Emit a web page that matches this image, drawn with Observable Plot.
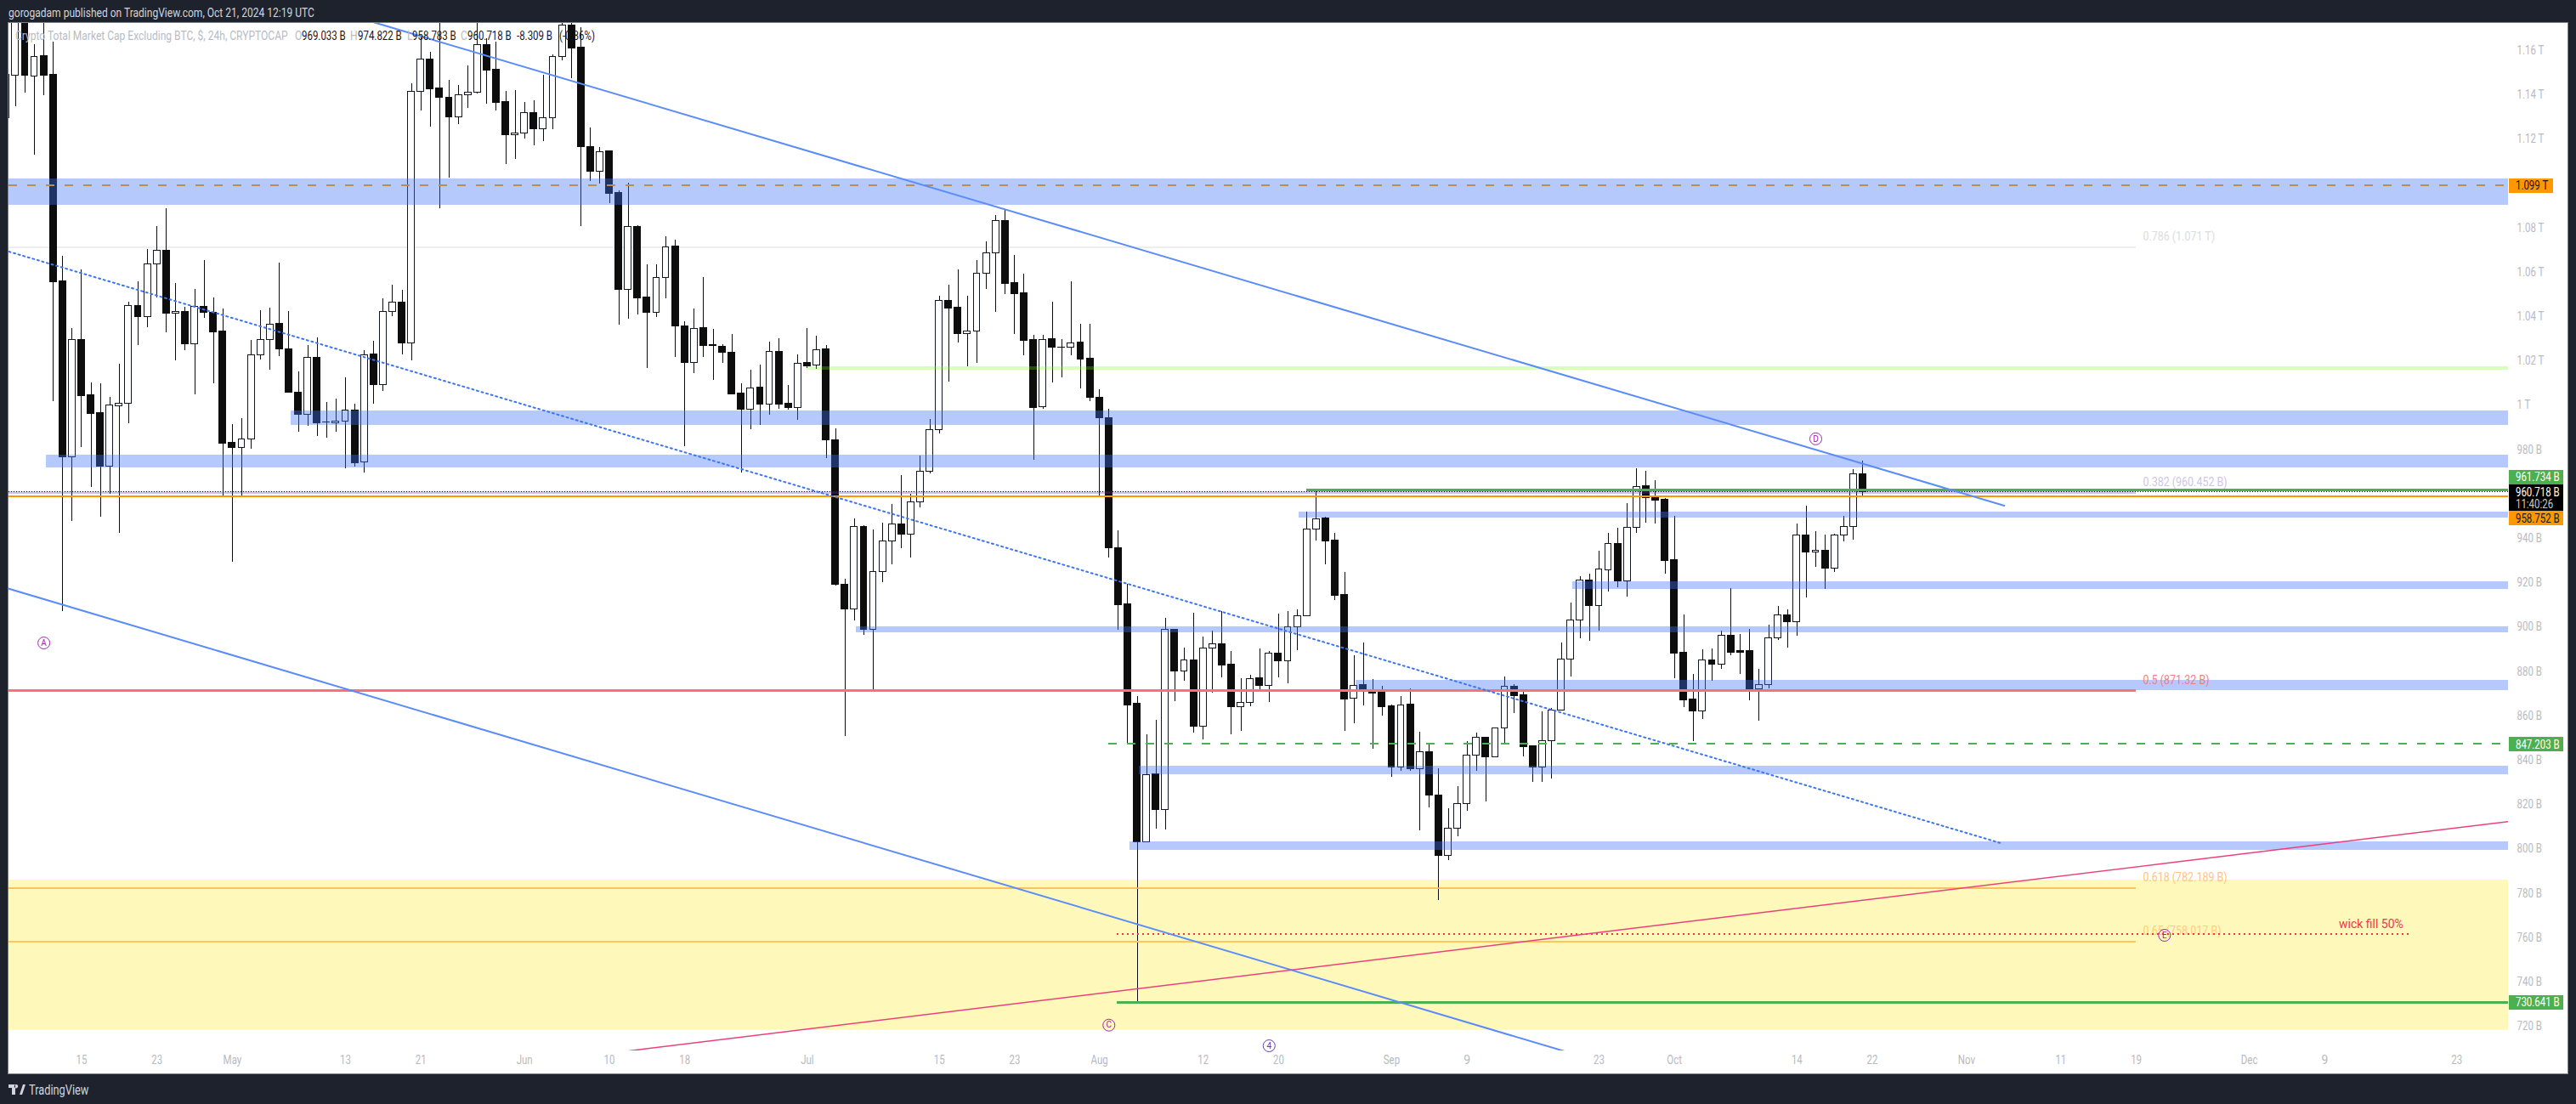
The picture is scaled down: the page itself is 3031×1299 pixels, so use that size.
<!DOCTYPE html>
<html><head><meta charset="utf-8">
<script src="https://cdn.jsdelivr.net/npm/d3@7"></script>
<script src="https://cdn.jsdelivr.net/npm/@observablehq/plot@0.6"></script>
<style>
html,body{margin:0;padding:0;background:#1e222d;width:3031px;height:1299px;overflow:hidden;font-family:Roboto,sans-serif}
#head{position:absolute;left:10px;top:0;height:27px;line-height:30px;color:#d1d4dc;font-size:14px;white-space:nowrap;transform:scaleX(.86);transform-origin:left}
#pane{position:absolute;left:10px;top:27px;width:3011px;height:1236px;background:#fff;outline:1px solid #7d808a}
#pane svg{display:block}
#legend{position:absolute;left:0;top:0;height:30px;width:720px;font-size:14px;line-height:30px}
#legend span{position:absolute;top:0;white-space:nowrap;color:#131722;transform:scaleX(.82);transform-origin:left}
#legend span.g{color:#b9bbc3;transform:scaleX(.86)}
#foot{position:absolute;left:10px;top:1272px;height:20px;display:flex;align-items:center;color:#d1d4dc;font-size:16px}
#foot svg{margin-right:4px}
#foot span{transform:scaleX(.8);transform-origin:left}
</style></head><body>
<div id="head">gorogadam published on TradingView.com, Oct 21, 2024 12:19 UTC</div>
<div id="pane"><div id="chart"></div>
<div id="legend">
<span class="g" style="left:8px">Crypto Total Market Cap Excluding BTC, $, 24h, CRYPTOCAP</span>
<span class="g" style="left:337px">O</span><span style="left:345px">969.033 B</span>
<span class="g" style="left:402px">H</span><span style="left:411px">974.822 B</span>
<span class="g" style="left:469px">L</span><span style="left:475px">958.783 B</span>
<span class="g" style="left:532px">C</span><span style="left:540px">960.718 B</span>
<span style="left:598px">-8.309 B</span><span style="left:648px">(-0.86%)</span>
</div></div>
<div id="foot"><svg width="20" height="12" viewBox="0 0 20 12"><path fill="#d1d4dc" d="M0 0h8v12H4V4H0zM13 12l4-12h3l-4 12zM9 0a2.2 2.2 0 1 0 .01 0z"/></svg><span>TradingView</span></div>
<script>
// Daily candles, first one on this date, values in billions of USD
const firstDay = "2024-04-07";
const opens = [
1129.3,1148.5,1176.8,1148.4,1157.3,1148.9,1055.8,976.6,1029.3,1004.4,996.4,972.5,999.7,1000.8,1044.9,1039.9,1063.7,1069.9,1041.3,1042.3,1027.5,1044.6,1041.7,1033.5,
983.0,980.8,984.6,1022.7,1029.6,1036.6,1025.4,1005.8,995.7,1021.5,992.5,992.0,992.6,997.8,974.3,1022.8,1009.1,1042.1,1046.2,1027.9,1141.5,1156.0,1142.7,1138.8,1130.0,1139.9,1141.1,1162.6,1151.2,1136.6,1121.8,
1122.5,1131.9,1124.4,1129.6,1157.2,1171.3,1161.1,1116.6,1105.3,1114.4,1095.6,1052.0,1080.6,1048.5,1041.7,1057.6,1071.5,1035.8,1019.1,1034.7,1027.0,1026.6,1023.9,1005.2,998.0,1007.9,1000.3,1024.3,1000.6,998.8,
1019.0,1017.9,1025.1,984.4,919.2,908.0,945.3,898.8,925.0,938.8,946.4,941.7,956.4,970.2,988.8,1047.3,1043.9,1032.1,1033.4,1059.5,1068.7,1083.3,1055.0,1050.4,1029.3,999.2,1029.7,1026.2,1026.1,1028.2,1020.9,
1003.6,994.4,935.8,910.2,865.4,803.0,833.6,817.6,899.0,880.0,885.2,855.1,890.4,892.5,883.0,863.9,865.8,876.9,873.5,888.3,884.7,900.0,905.0,943.9,948.9,938.9,914.4,867.7,874.0,871.1,870.3,
864.2,836.8,865.0,836.0,843.5,824.3,796.8,809.2,820.2,842.1,850.0,841.3,854.4,873.0,869.2,846.2,836.8,848.6,862.4,885.4,903.0,920.9,909.6,925.6,937.7,920.7,944.8,963.4,958.4,957.3,
930.1,888.4,867.3,862.0,885.1,883.2,896.2,889.1,889.1,871.9,874.0,895.1,905.4,902.4,941.5,933.6,934.6,926.5,941.5,945.3,969.033];
const highs = [
1151.9,1182.6,1182.6,1162.8,1176.8,1163.7,1067.2,1034.7,1061.1,1010.2,1009.8,1003.6,1018.6,1046.6,1055.8,1070.2,1080.7,1088.7,1055.0,1044.2,1052.3,1065.3,1048.5,1043.4,
991.4,994.1,1029.3,1042.7,1043.9,1064.2,1042.3,1015.1,1027.0,1030.3,1001.3,1002.9,1012.4,1000.6,1024.6,1028.9,1048.1,1054.2,1051.9,1144.9,1166.1,1159.2,1176.8,1146.6,1144.3,1153.0,1174.9,1165.3,1163.8,1141.5,1142.0,
1136.6,1137.4,1149.0,1158.0,1174.1,1174.9,1170.2,1125.1,1116.3,1114.8,1096.7,1100.2,1081.0,1063.4,1063.4,1075.9,1074.5,1037.6,1043.5,1057.7,1034.3,1027.3,1031.9,1009.8,1015.9,1018.1,1028.4,1030.1,1009.0,1022.8,
1034.7,1031.2,1027.0,989.5,921.7,948.9,945.8,943.9,946.9,955.4,968.4,960.0,977.2,993.7,1049.2,1054.2,1061.0,1049.2,1065.3,1073.8,1085.5,1088.3,1067.6,1059.2,1031.6,1031.6,1046.6,1029.7,1055.8,1036.6,1036.6,
1007.0,998.2,943.5,919.2,868.8,851.4,858.0,904.0,899.2,890.6,906.3,895.6,898.3,907.2,889.1,876.8,878.3,890.2,889.1,906.0,907.1,907.9,951.9,961.3,949.6,942.3,924.8,887.2,893.0,876.4,873.4,
865.0,868.8,872.2,852.7,847.1,836.2,818.2,828.2,848.5,852.3,850.2,854.6,877.6,874.1,871.8,846.4,861.9,863.4,893.0,910.9,922.8,923.9,934.3,942.3,944.6,955.8,971.5,970.3,966.1,958.2,
949.8,905.6,878.7,889.8,890.2,898.3,917.4,896.7,899.0,881.0,900.9,909.4,907.9,946.6,954.6,943.1,941.5,941.9,949.9,971.1,974.822];
const lows = [
1129.3,1134.7,1140.9,1113.0,1139.8,1001.8,907.1,947.8,981.0,963.1,949.7,960.1,942.5,991.9,1027.0,1035.1,1048.5,1032.9,1020.1,1024.8,1004.9,1039.3,1009.8,959.2,
929.3,959.2,980.3,1020.6,1016.0,1022.2,1005.6,988.0,990.7,986.1,985.4,988.0,971.6,972.3,969.7,1000.6,1006.3,1040.2,1022.9,1020.1,1132.8,1125.5,1088.7,1102.5,1126.6,1134.0,1140.4,1135.9,1132.8,1108.7,1111.0,
1120.2,1117.0,1119.0,1124.4,1155.5,1147.4,1080.8,1101.1,1099.8,1091.1,1036.0,1039.0,1040.8,1016.8,1039.8,1048.2,1021.7,981.4,1014.5,1021.7,1011.4,1019.1,1004.9,969.7,989.2,991.1,995.6,998.3,997.9,993.4,
1016.6,1016.3,976.2,918.7,850.9,902.9,896.5,871.9,920.2,928.3,935.6,931.3,953.9,969.3,987.2,1010.5,1028.3,1017.6,1019.1,1052.3,1042.1,1050.1,1032.1,1022.5,975.4,998.4,1010.2,1012.6,1022.5,1007.6,1001.7,
959.2,931.2,898.8,847.3,730.6,803.0,809.0,808.7,866.5,875.7,852.3,849.2,870.3,877.2,851.5,853.1,864.2,871.5,866.2,877.2,874.5,889.6,905.0,938.9,928.3,912.2,853.2,856.5,864.7,845.1,860.0,
832.2,835.1,835.1,808.3,818.7,776.8,794.8,805.6,817.1,834.9,821.3,841.2,847.7,861.1,841.7,830.2,830.2,831.6,862.4,877.6,894.9,893.7,898.3,916.0,917.8,913.6,942.4,947.0,946.6,923.9,
877.0,863.6,848.6,858.5,875.8,881.2,887.3,878.8,867.0,857.8,872.3,894.2,890.7,896.1,913.3,927.1,917.2,924.8,938.6,939.4,958.783];
const closes = [
1148.9,1176.8,1148.5,1157.2,1148.6,1055.5,976.6,1029.3,1004.1,996.1,972.3,999.8,1000.8,1044.9,1039.8,1063.7,1069.8,1041.2,1042.2,1027.5,1044.5,1041.7,1033.1,982.7,
980.7,984.8,1022.7,1029.6,1036.5,1025.2,1005.7,995.7,1021.5,991.9,992.3,992.8,997.8,974.1,1022.7,1009.1,1042.2,1046.2,1027.8,1141.5,1156.0,1142.5,1138.5,1129.8,1139.9,1141.1,1162.5,1150.9,1136.3,1121.8,1122.7,
1131.9,1124.4,1129.6,1157.2,1171.3,1160.8,1116.4,1105.3,1114.3,1095.2,1052.0,1080.5,1048.2,1041.7,1057.6,1071.3,1035.6,1019.1,1034.6,1026.7,1026.8,1023.6,1004.9,997.9,1007.7,1000.2,1024.2,1000.2,998.7,1018.9,
1017.8,1025.0,984.1,919.1,908.0,945.3,898.8,925.0,938.8,946.4,941.7,956.4,970.2,989.0,1047.2,1043.6,1032.1,1033.4,1059.5,1068.7,1083.2,1054.7,1050.1,1029.0,999.0,1029.6,1026.0,1026.0,1028.0,1020.6,1003.4,
994.2,935.6,909.8,864.9,803.0,833.4,817.6,898.9,879.9,885.1,855.0,890.4,892.3,882.6,863.8,866.0,876.8,873.4,888.3,884.5,900.0,905.1,943.9,948.7,938.6,914.1,867.6,873.6,870.9,870.0,863.9,
836.8,864.8,836.0,843.5,824.0,796.8,809.3,820.4,842.3,850.0,841.2,854.4,873.0,868.8,845.9,836.8,848.7,862.6,885.5,903.1,920.9,909.6,925.9,937.6,920.5,944.9,963.2,958.2,956.9,929.8,
888.1,866.9,862.0,885.1,883.1,896.2,888.4,888.4,871.9,874.0,895.1,905.4,902.2,941.5,933.6,934.6,926.4,941.5,945.3,969.0,960.718];

// Time labels on the bottom axis
const dayLabels = ["2024-04-15","2024-04-23","2024-05-13","2024-05-21","2024-06-10","2024-06-18","2024-07-15","2024-07-23","2024-08-12","2024-08-20","2024-09-09","2024-09-23","2024-10-14","2024-10-22","2024-11-11","2024-11-19","2024-12-09","2024-12-23"];
const monthLabels = ["2024-05-01","2024-06-01","2024-07-01","2024-08-01","2024-09-01","2024-10-01","2024-11-01","2024-12-01"];
// Price labels on the right axis (billions)
const priceTicks = [720,740,760,780,800,820,840,860,880,900,920,940,980,1000,1020,1040,1060,1080,1120,1140,1160];

// Support / resistance zones: low, high, start date
const zoneLows   = [1090.3,991.0,971.8,949.3,917.1,897.6,871.6,833.6,799.6];
const zoneHighs  = [1102.1,997.5,977.6,951.9,920.5,900.2,876.1,837.4,803.3];
const zoneStarts = ["2024-04-07T00:00Z","2024-05-07T05:00Z","2024-04-11T07:00Z","2024-08-22T05:00Z","2024-09-20T05:00Z","2024-07-06T05:00Z","2024-08-28T05:00Z","2024-08-05T05:00Z","2024-08-04T05:00Z"];
const yellowZone = [718.3,786.0];
const greenZone  = [1015.9,1017.4];
const greenZoneStart = "2024-07-01T00:00Z";

// Fibonacci levels
const fibNames  = ["0.786 (1.071 T)","0.618 (782.189 B)","0.65 (758.017 B)","0.5 (871.32 B)","0.382 (960.452 B)"];
const fibPrices = [1071.1,782.189,758.017,871.32,960.452];
const fibEnd = "2024-11-19T00:00Z";

// Horizontal levels
const topLevel = 1099.0;
const orangeLevel = 958.752;
const lastPrice = 960.718;
const greenLevel = 961.734;
const greenLevelStart = "2024-08-23T00:00Z";
const dashedLevel = 847.203;
const dashedLevelStart = "2024-08-02T00:00Z";
const lowLevel = 730.641;
const lowLevelStart = "2024-08-02T20:00Z";
const wickFill = 761.5;
const wickFillDates = ["2024-08-02T20:00Z","2024-12-18T00:00Z"];

// Trendlines: [date, price]
const upperTrend  = [["2024-05-16T00:00Z",1172.7],["2024-11-05T00:00Z",954.8]];
const lowerTrend  = [["2024-04-07T00:00Z",917.7],["2024-09-20T00:00Z",708.0]];
const dottedTrend = [["2024-04-07T07:00Z",1069.3],["2024-11-04T18:00Z",802.5]];
const pinkTrend   = [["2024-06-12T02:00Z",709.0],["2024-12-28T12:00Z",812.4]];

// Wave labels
const waveNames  = ["A","C","D","E","4"];
const waveDates  = ["2024-04-11","2024-08-02","2024-10-16","2024-11-22","2024-08-19"];
const wavePrices = [892.9,720.6,984.9,761.1,711.3];

// Axis tags
const tagTexts  = ["1.099 T","961.734 B","960.718 B","958.752 B","847.203 B","730.641 B"];
const tagPrices = [1099.0,967.5,960.8,949.0,847.1,730.8];

const D = s => new Date(s);
const domainStart = D("2024-04-07T07:00Z"), domainEnd = D("2024-12-28T11:45Z");
const HALF = 0.355*864e5;
const candles = opens.map((o,i)=>{
  const date = d3.utcDay.offset(D(firstDay+"T00:00Z"),i);
  return {date,x1:new Date(+date-HALF),x2:new Date(+date+HALF),o,h:highs[i],l:lows[i],c:closes[i],up:closes[i]>=o};
});
const monthNames = {4:"May",5:"Jun",6:"Jul",7:"Aug",8:"Sep",9:"Oct",10:"Nov",11:"Dec"};
const xTicks = [...dayLabels,...monthLabels].map(s=>D(s+"T00:00Z"));
const xFmt = d => d.getUTCDate()===1 ? monthNames[d.getUTCMonth()] : String(d.getUTCDate());
const yFmt = v => v>=1000 ? `${+(v/1000).toFixed(2)} T` : `${v} B`;

const zones = zoneLows.map((lo,i)=>({lo,hi:zoneHighs[i],from:D(zoneStarts[i]),to:domainEnd}));
const rows = (pts)=>pts.map(([d,p])=>({date:D(d),p}));
const lvl = (price,from,to,opt)=>Plot.ruleY([{price}],{y:"price",x1:()=>from,x2:()=>to,clip:true,shapeRendering:"crispEdges",dy:-0.5,...opt});

const tagStart = D("2024-12-28T13:30Z"), tagEnd = D("2025-01-03T08:30Z"), tagEndShort = D("2025-01-02T06:30Z"), tagTextAt = D("2024-12-29T06:00Z");
const tagBoxes = [
 {a:1095.7,b:1102.1,to:tagEndShort,f:"#ff9800"},
 {a:964.3,b:970.7,to:tagEnd,f:"#4caf50"},
 {a:952.3,b:964.2,to:tagEnd,f:"#000"},
 {a:945.9,b:952.2,to:tagEnd,f:"#ff9800"},
 {a:843.9,b:850.4,to:tagEnd,f:"#4caf50"},
 {a:727.5,b:733.9,to:tagEnd,f:"#4caf50"}
];
const tagFill = ["#131722","#fff","#fff","#131722","#fff","#fff"];
const labelX = D("2024-11-19T17:00Z");
const fibColours = ["#dddddd","#ffc38a","#ffcc80","#f77c80","#d1c4e9"];
const fibLabelOffset = [4.9,5.1,5.0,4.8,4.9];
const W = 2.4;

const chart = Plot.plot({
  width:3021,height:1236,marginLeft:0,marginRight:80,marginTop:0,marginBottom:27,
  style:{background:"transparent",fontFamily:"Roboto, sans-serif",maxWidth:"none",overflow:"hidden"},
  x:{type:"utc",domain:[domainStart,domainEnd],axis:null},
  y:{type:"linear",domain:[709.0,1172.2],axis:null},
  marks:[
    Plot.rect([{a:yellowZone[0],b:yellowZone[1]}],{x1:()=>domainStart,x2:()=>domainEnd,y1:"a",y2:"b",fill:"#ffeb3b",fillOpacity:0.35}),
    lvl(fibPrices[0],domainStart,D(fibEnd),{stroke:"#eeeeee",strokeWidth:W}),
    // candles
    Plot.ruleX(candles,{x:"date",y1:"l",y2:"h",stroke:"#0c0c0e",strokeWidth:1,clip:true,shapeRendering:"crispEdges"}),
    Plot.rect(candles,{x1:"x1",x2:"x2",y1:d=>Math.min(d.o,d.c),y2:d=>Math.max(d.o,d.c),fill:d=>d.up?"#ffffff":"#0d0d0d",stroke:d=>d.up?"#131722":"#0d0d0d",strokeWidth:1,clip:true,shapeRendering:"crispEdges"}),
    // zones over candles
    Plot.rect(zones,{x1:"from",x2:"to",y1:"lo",y2:"hi",fill:"rgb(60,112,247)",fillOpacity:0.38,shapeRendering:"crispEdges"}),
    Plot.rect([{a:greenZone[0],b:greenZone[1]}],{x1:()=>D(greenZoneStart),x2:()=>domainEnd,y1:"a",y2:"b",fill:"rgb(115,255,15)",fillOpacity:0.27,shapeRendering:"crispEdges"}),
    // fib lines
    lvl(fibPrices[1],domainStart,D(fibEnd),{stroke:"#ffb74d",strokeOpacity:0.85,strokeWidth:W}),
    lvl(fibPrices[2],domainStart,D(fibEnd),{stroke:"#ffc65c",strokeWidth:W}),
    lvl(fibPrices[3],domainStart,D(fibEnd),{stroke:"#f7737a",strokeWidth:W}),
    lvl(fibPrices[4],domainStart,D(fibEnd),{stroke:"#673ab7",strokeOpacity:0.3,strokeWidth:W}),
    Plot.text(fibNames.map((t,i)=>({t,i,p:fibPrices[i]+fibLabelOffset[i]})),{x:()=>labelX,y:"p",text:"t",fill:d=>fibColours[d.i],textAnchor:"start",fontSize:14}),
    // horizontals
    lvl(topLevel,domainStart,domainEnd,{stroke:"#c08a50",strokeWidth:W,strokeDasharray:"10 12"}),
    lvl(lastPrice,domainStart,domainEnd,{stroke:"#131722",strokeWidth:1,strokeDasharray:"1 2"}),
    lvl(orangeLevel,domainStart,domainEnd,{stroke:"#ff9800",strokeWidth:W}),
    lvl(greenLevel,D(greenLevelStart),domainEnd,{stroke:"#4caf50",strokeWidth:W}),
    lvl(dashedLevel,D(dashedLevelStart),domainEnd,{stroke:"#4caf50",strokeWidth:W,strokeDasharray:"10 12"}),
    lvl(lowLevel,D(lowLevelStart),domainEnd,{stroke:"#4caf50",strokeWidth:W}),
    lvl(wickFill,D(wickFillDates[0]),D(wickFillDates[1]),{stroke:"#f23645",strokeWidth:W,strokeDasharray:"2 4"}),
    Plot.text(["wick fill 50%"],{x:()=>D("2024-12-10T12:00Z"),y:()=>766.1,text:d=>d,fill:"#f23645",textAnchor:"start",fontSize:14}),
    // trendlines
    Plot.line(rows(upperTrend),{x:"date",y:"p",stroke:"#5b8cf9",strokeWidth:2,clip:true}),
    Plot.line(rows(lowerTrend),{x:"date",y:"p",stroke:"#5b8cf9",strokeWidth:2,clip:true}),
    Plot.line(rows(dottedTrend),{x:"date",y:"p",stroke:"#3d74f5",strokeWidth:2,strokeDasharray:"2 3.8",clip:true}),
    Plot.line(rows(pinkTrend),{x:"date",y:"p",stroke:"#ec407a",strokeWidth:1.5,clip:true}),
    // wave labels
    Plot.dot(waveNames.map((t,i)=>({t,d:D(waveDates[i]+"T00:00Z"),p:wavePrices[i]})),{x:"d",y:"p",r:7,fill:"none",stroke:d=>d.t==="4"?"#673ab7":"#9c27b0",strokeWidth:1}),
    Plot.text(waveNames.map((t,i)=>({t,d:D(waveDates[i]+"T00:00Z"),p:wavePrices[i]})),{x:"d",y:"p",text:"t",fill:d=>d.t==="4"?"#673ab7":"#9c27b0",fontSize:10}),
    // axis
    Plot.axisX({ticks:xTicks,tickFormat:xFmt,tickSize:0,tickPadding:6,color:"#b8bac2",fontSize:14,anchor:"bottom"}),
    Plot.axisY({ticks:priceTicks,tickFormat:yFmt,tickSize:0,tickPadding:10,color:"#b8bac2",fontSize:14,anchor:"right"}),
    // tags
    Plot.rect(tagBoxes,{x1:()=>tagStart,x2:"to",y1:"a",y2:"b",fill:"f",shapeRendering:"crispEdges"}),
    Plot.text(tagTexts.map((t,i)=>({t,i,p:tagPrices[i]})),{x:()=>tagTextAt,y:"p",text:"t",fill:d=>tagFill[d.i],textAnchor:"start",fontSize:14}),
    Plot.text(["11:40:26"],{x:()=>tagTextAt,y:()=>955.5,text:d=>d,fill:"#c8c8c8",textAnchor:"start",fontSize:14})
  ]
});
document.getElementById("chart").appendChild(chart);
// The original typeface is narrower than the installed ones: condense the chart's labels to its widths
chart.querySelectorAll("text").forEach(t=>{
  const s=t.textContent;
  if(s.length<=1||s.startsWith("wick")) return;
  const k=s.includes("(")?0.89:0.82;
  t.setAttribute("textLength",(t.getComputedTextLength()*k).toFixed(1));
  t.setAttribute("lengthAdjust","spacingAndGlyphs");
});
</script>
</body></html>
